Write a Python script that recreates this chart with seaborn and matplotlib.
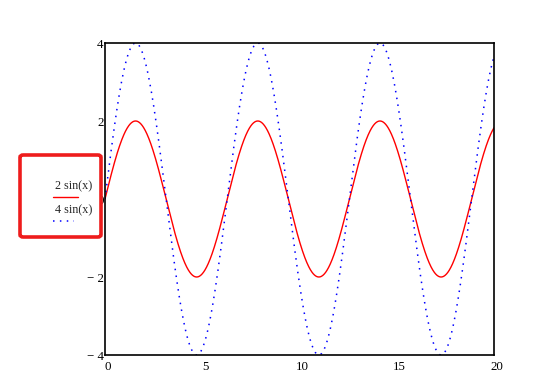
import numpy as np
import pandas as pd
import matplotlib
matplotlib.use("Agg")
import matplotlib.pyplot as plt
import matplotlib.transforms as mtransforms
import seaborn as sns
from matplotlib.lines import Line2D
from matplotlib.patches import FancyBboxPatch

# data
labels = ["2 sin(x)", "4 sin(x)"]
amplitudes = [2, 4]
colors = ["#ff0000", "#0000ff"]
x_ticks = [0, 5, 10, 15, 20]
y_ticks = [-4, -2, 0, 2, 4]
y_ticklabels = ["\u2212 4", "\u2212 2", "0", "2", "4"]

x = np.linspace(0, 20, 1200)
frames = []
for lab, a in zip(labels, amplitudes):
    frames.append(pd.DataFrame({"x": x, "y": a * np.sin(x), "series": lab}))
df = pd.concat(frames, ignore_index=True)

sns.set_style("white")
plt.rcParams["font.family"] = ["Liberation Serif", "DejaVu Serif"]

fig = plt.figure(figsize=(5.41, 3.85), dpi=100)
ax = fig.add_axes([105 / 541, 1 - 355 / 385, (494 - 105) / 541, (355 - 43) / 385])

dot_style = (0, (1, 3.5))
sns.lineplot(data=df[df.series == labels[0]], x="x", y="y", ax=ax,
             color=colors[0], lw=1.0, legend=False)
sns.lineplot(data=df[df.series == labels[1]], x="x", y="y", ax=ax,
             color=colors[1], lw=1.1, linestyle=dot_style, legend=False)

FS = 9.3
LFS = 8.7
ax.set_xlim(0, 20)
ax.set_ylim(-4, 4)
ax.set_xlabel("")
ax.set_ylabel("")
ax.set_xticks(x_ticks)
ax.set_yticks(y_ticks)
ax.set_yticklabels(y_ticklabels)
ax.tick_params(axis="both", direction="in", length=6, width=1, color="black",
               labelsize=FS, labelcolor="black")
ax.tick_params(axis="x", pad=4.5)
ax.tick_params(axis="y", pad=1)
shift = mtransforms.ScaledTranslation(3 / 100, 0, fig.dpi_scale_trans)
for lbl in ax.get_xticklabels():
    lbl.set_transform(lbl.get_transform() + shift)
for s in ax.spines.values():
    s.set_color("black")
    s.set_linewidth(1.2)
    s.set_visible(True)

# legend box (manual, Mathcad style)
W, H = 541, 385
def fx(px): return px / W
def fy(py): return 1 - py / H

box = FancyBboxPatch((fx(20), fy(237)), fx(101) - fx(20), fy(155) - fy(237),
                     boxstyle="round,pad=0,rounding_size=0.006",
                     transform=fig.transFigure, facecolor="white",
                     edgecolor="#ee1c1c", lw=2.6, zorder=5)
fig.add_artist(box)
fig.text(fx(55), fy(186), labels[0], fontsize=LFS, va="center", ha="left", zorder=6)
fig.add_artist(Line2D([fx(53), fx(78)], [fy(197), fy(197)], transform=fig.transFigure,
                      color=colors[0], lw=1.0, zorder=6))
fig.text(fx(55), fy(210), labels[1], fontsize=LFS, va="center", ha="left", zorder=6)
fig.add_artist(Line2D([fx(53), fx(74)], [fy(221), fy(221)], transform=fig.transFigure,
                      color=colors[1], lw=1.1, linestyle=dot_style, zorder=6))

fig.savefig("out.png", dpi=100)
